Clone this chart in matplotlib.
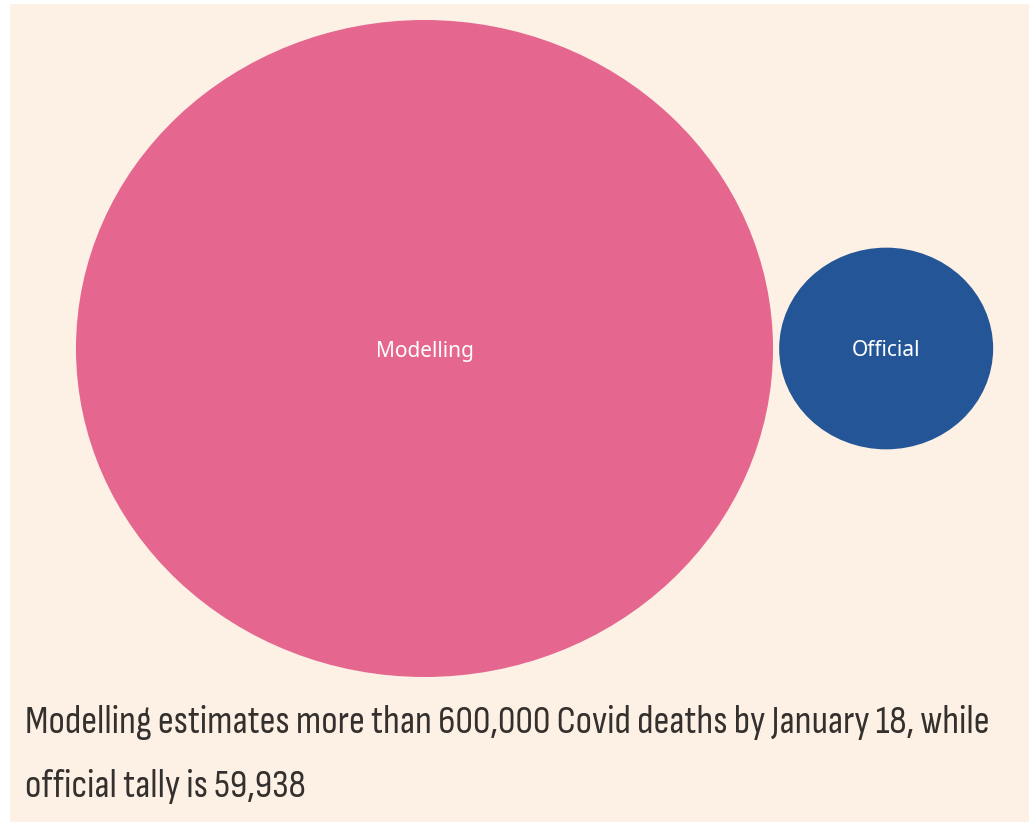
import numpy as np
import matplotlib
matplotlib.use('Agg')
import matplotlib.pyplot as plt
from matplotlib.patches import Circle, Rectangle

# data
labels = ['Modelling', 'Official']
values = [636000, 59938]
colors = ['#E5678F', '#235597']
caption = ['Modelling estimates more than 600,000 Covid deaths by January 18, while',
           'official tally is 59,938']

W, H = 1029, 822
cream = '#FDF1E5'

fig = plt.figure(figsize=(W / 100, H / 100), dpi=100)
fig.patch.set_facecolor('white')
fig.add_artist(Rectangle((10 / W, 0), 1 - 10 / W, (H - 4) / H,
                         transform=fig.transFigure, facecolor=cream,
                         edgecolor='none', zorder=0))

ax = fig.add_axes([0, 0, 1, 1])
ax.axis('off')
ax.patch.set_alpha(0)

# bubble radii from area, packed side by side with a small gap
radii = np.sqrt(values)
pad = 14
centers = [0, radii[0] + pad + radii[1]]

# pixel scale: circles are drawn slightly wider than tall
sy = 328.5 / radii[0]
sx = sy * 1.061
cx, cy = 424.5, 348.5
ax.set_xlim(-cx / sx, (W - cx) / sx)
ax.set_ylim(-(H - cy) / sy, cy / sy)

for lab, r, c, x in zip(labels, radii, colors, centers):
    ax.add_patch(Circle((x, 0), r, facecolor=c, edgecolor='none'))
    ax.text(x, 0, lab, color='white', ha='center', va='center_baseline',
            fontsize=15, weight='medium', family=['Noto Sans', 'DejaVu Sans'])

cap_font = dict(family=['Sofia Sans Condensed', 'Roboto Condensed', 'DejaVu Sans'],
                weight='light', fontsize=28.3, color='#33302E', va='baseline', ha='left')
fig.text(25 / W, 1 - 733 / H, caption[0], **cap_font)
fig.text(25 / W, 1 - 797 / H, caption[1], **cap_font)

fig.savefig('out.png', dpi=100, facecolor=fig.get_facecolor())
